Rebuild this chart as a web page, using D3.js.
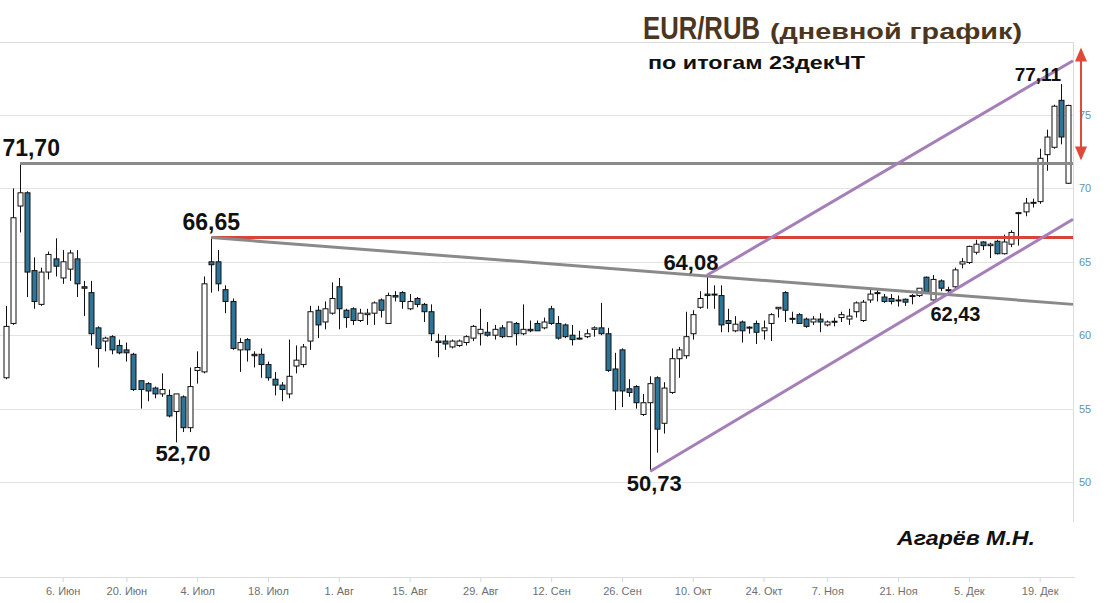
<!DOCTYPE html>
<html>
<head>
<meta charset="utf-8">
<script src="https://cdn.jsdelivr.net/npm/d3@7"></script>
<style>
  body { margin: 0; background: #fff; }
  svg { display: block; }
</style>
</head>
<body>
<svg></svg>
<script>
// EUR/RUB daily candles, 25 May - 23 Dec 2022 (MOEX days, 13 Jun and 4 Nov closed)
const firstDay = new Date(2022, 4, 25);
const lastDay = new Date(2022, 11, 23);
const holidays = ["2022-06-13", "2022-11-04"];

const opens = [
  57.1, 60.8, 68.8, 69.7, 64.4, 62.1, 64.3, 65.2, 63.9, 64.5,
  65.2, 63.3, 62.9, 60.5, 59.6, 59.9, 59.3, 59.0, 58.7, 56.9,
  56.7, 56.4, 56.0, 55.9, 54.8, 55.8, 53.7, 57.6, 57.5, 65.0,
  65.0, 63.1, 62.3, 59.0, 59.7, 58.7, 58.7, 58.0, 57.0, 56.6,
  56.0, 57.9, 58.0, 59.6, 61.7, 60.9, 61.5, 63.3, 61.7, 61.8,
  61.0, 61.4, 61.5, 62.4, 60.8, 62.7, 62.9, 61.8, 62.5, 62.1,
  61.6, 59.6, 59.6, 59.2, 59.3, 59.5, 59.8, 60.1, 60.2, 60.0,
  60.5, 59.9, 60.8, 60.1, 60.4, 60.8, 60.5, 61.8, 60.8, 60.7,
  60.0, 59.8, 59.9, 60.4, 60.5, 60.1, 57.7, 59.0, 56.35, 56.5,
  54.6, 55.4, 57.1, 54.0, 56.1, 58.4, 58.6, 60.1, 61.9, 62.8,
  62.8, 62.7, 61.0, 60.3, 60.9, 60.55, 60.8, 60.3, 60.8, 61.8,
  62.9, 61.15, 61.4, 61.1, 60.9, 61.1, 60.7, 60.95, 61.2, 61.1,
  61.6, 61.0, 62.4, 62.85, 62.6, 62.5, 62.4, 62.45, 62.65, 62.7,
  63.95, 62.4, 63.7, 63.05, 63.3, 64.85, 64.95, 65.65, 66.35, 66.1,
  66.4, 65.55, 66.2, 68.3, 68.4, 69.0, 69.1, 72.3, 72.8, 76.0,
  70.35
];
const highs = [
  62.0, 70.0, 71.7, 69.8, 65.3, 64.6, 65.7, 66.6, 65.8, 65.8,
  65.8, 63.7, 63.7, 60.6, 59.9, 60.0, 59.7, 59.5, 58.8, 56.9,
  56.8, 56.5, 57.4, 56.3, 56.0, 55.9, 57.8, 58.9, 64.0, 66.65,
  65.8, 63.4, 62.5, 59.8, 59.8, 58.9, 59.1, 58.2, 57.5, 56.8,
  59.7, 59.3, 59.4, 62.0, 62.0, 62.3, 63.6, 63.9, 61.8, 61.9,
  61.8, 61.8, 62.3, 62.5, 62.9, 63.0, 63.0, 62.8, 62.6, 62.2,
  62.1, 60.1, 60.0, 59.7, 59.7, 60.0, 60.7, 61.8, 60.9, 60.7,
  60.7, 60.9, 60.9, 62.1, 61.0, 61.0, 61.2, 62.0, 61.3, 60.8,
  60.7, 60.3, 60.4, 60.6, 62.2, 60.5, 58.8, 59.1, 57.0, 56.6,
  56.0, 57.2, 57.2, 56.8, 59.1, 59.2, 61.6, 61.7, 63.0, 64.08,
  63.4, 63.4, 61.8, 61.3, 61.0, 60.6, 61.0, 61.0, 61.5, 61.9,
  63.0, 61.6, 61.5, 61.2, 61.3, 61.5, 61.0, 61.2, 61.6, 61.8,
  62.3, 62.4, 63.1, 63.1, 62.8, 62.8, 62.7, 62.5, 62.8, 63.2,
  64.0, 64.1, 63.8, 63.3, 64.6, 65.25, 66.1, 66.5, 66.4, 66.3,
  66.5, 66.85, 67.15, 68.4, 69.35, 69.3, 72.7, 74.0, 75.7, 77.11,
  75.7
];
const lows = [
  57.0, 60.7, 67.0, 62.6, 61.8, 62.0, 63.8, 64.0, 63.5, 63.7,
  62.6, 61.3, 59.3, 57.8, 58.9, 58.7, 58.7, 58.2, 56.2, 55.0,
  55.5, 55.7, 55.8, 54.4, 52.7, 53.4, 53.4, 56.7, 57.4, 62.9,
  63.0, 61.5, 59.0, 57.5, 58.2, 57.8, 57.1, 56.9, 55.9, 55.5,
  55.7, 57.4, 57.8, 59.0, 59.8, 60.4, 61.4, 60.4, 60.5, 60.7,
  60.9, 60.7, 60.7, 61.2, 60.8, 62.3, 61.8, 61.7, 61.9, 60.9,
  59.6, 58.5, 59.0, 59.1, 59.2, 59.3, 59.6, 59.3, 59.9, 59.7,
  59.8, 59.9, 59.3, 60.0, 60.2, 60.3, 60.4, 60.7, 59.7, 59.8,
  59.3, 59.7, 59.8, 59.9, 60.0, 57.5, 54.9, 55.1, 55.8, 55.0,
  54.5, 50.73, 52.0, 53.3, 56.0, 57.1, 58.4, 59.7, 61.8, 61.8,
  61.8, 60.2, 60.2, 60.2, 59.5, 60.1, 59.4, 59.7, 59.6, 61.2,
  60.9, 60.8, 60.8, 60.5, 60.7, 60.2, 60.6, 60.6, 60.9, 60.7,
  61.2, 60.9, 62.2, 62.3, 62.2, 62.1, 61.95, 62.0, 62.1, 62.6,
  62.9, 62.35, 63.0, 62.8, 63.2, 64.55, 64.85, 65.5, 65.8, 65.25,
  65.5, 65.5, 66.0, 66.1, 68.1, 68.7, 68.95, 71.2, 72.7, 73.0,
  70.3
];
const closes = [
  60.6, 68.0, 69.7, 64.3, 62.3, 64.3, 65.5, 64.7, 65.0, 65.6,
  63.5, 63.2, 60.1, 59.1, 59.8, 59.0, 58.8, 58.8, 56.3, 56.3,
  56.2, 56.0, 56.3, 54.5, 56.0, 53.7, 56.5, 57.8, 63.5, 64.8,
  63.5, 62.3, 59.1, 59.5, 59.0, 58.6, 58.0, 57.1, 56.6, 56.3,
  57.2, 58.3, 59.2, 61.6, 60.7, 61.8, 62.5, 61.8, 61.2, 61.0,
  61.5, 61.5, 62.2, 61.7, 62.7, 62.6, 62.3, 62.3, 62.1, 61.6,
  60.1, 59.5, 59.4, 59.6, 59.6, 59.9, 60.6, 60.4, 60.0, 60.4,
  59.9, 60.9, 60.1, 60.4, 60.3, 60.3, 60.9, 60.8, 59.8, 59.9,
  59.7, 59.8, 60.1, 60.5, 60.1, 57.6, 56.2, 56.2, 56.1, 55.4,
  55.4, 56.7, 53.6, 56.4, 58.4, 59.0, 59.9, 61.4, 62.5, 62.7,
  62.75, 60.7, 60.8, 60.75, 60.3, 60.5, 60.2, 60.5, 61.4, 61.9,
  61.7, 61.1, 60.8, 60.6, 61.1, 60.9, 60.9, 60.9, 61.4, 61.3,
  62.2, 62.25, 62.8, 62.9, 62.3, 62.3, 62.35, 62.25, 62.7, 63.2,
  62.95, 63.8, 63.2, 63.1, 64.45, 65.0, 66.05, 66.2, 66.1, 66.2,
  65.55, 66.35, 67.0, 68.35, 69.0, 69.05, 72.05, 73.5, 75.6, 73.5,
  75.65
];

const priceTicks = [50, 55, 60, 65, 70, 75];
const tickDays = ["2022-06-06", "2022-06-20", "2022-07-04", "2022-07-18", "2022-08-01",
  "2022-08-15", "2022-08-29", "2022-09-12", "2022-09-26", "2022-10-10",
  "2022-10-24", "2022-11-07", "2022-11-21", "2022-12-05", "2022-12-19"];
const tickLabels = ["6. Июн", "20. Июн", "4. Июл", "18. Июл", "1. Авг", "15. Авг",
  "29. Авг", "12. Сен", "26. Сен", "10. Окт", "24. Окт", "7. Ноя", "21. Ноя",
  "5. Дек", "19. Дек"];

// marked extremes: candle index and price
const markText = ["71,70", "66,65", "52,70", "50,73", "64,08", "62,43", "77,11"];
const markIndex = [2, 29, 24, 91, 99, 131, 149];
const markValue = [71.70, 66.65, 52.70, 50.73, 64.08, 62.43, 77.11];

// drawn lines: start candle/price, price at the right edge
const lineStartIndex = [2, 29, 29, 99, 91];
const lineStartValue = [71.70, 66.65, 66.65, 64.08, 50.73];
const lineEndValue = [71.70, 66.65, 62.1, 78.7, 67.9];
const lineKind = ["level", "red", "level", "channel", "channel"];

const arrowRange = [79.6, 71.9];

const width = 1118;
const height = 603;
const plot = { left: 0, right: 1073, top: 42, bottom: 522 };

const fmt = d3.timeFormat("%Y-%m-%d");
const days = d3.timeDay
  .range(firstDay, d3.timeDay.offset(lastDay, 1))
  .filter((d) => d.getDay() !== 0 && d.getDay() !== 6 && !holidays.includes(fmt(d)))
  .map(fmt);

const candles = days.map((d, i) => ({
  day: d, open: opens[i], high: highs[i], low: lows[i], close: closes[i],
}));

const svg = d3.select("svg").attr("width", width).attr("height", height);

const xScale = d3.scalePoint().domain(days).range([6, 1068]);
const yScale = d3.scaleLinear().domain([50, 75]).range([482, 115]);
const step = xScale.step();
const xAt = (i) => xScale(days[0]) + i * step;

// frame and grid
svg.append("g")
  .selectAll("line")
  .data(priceTicks)
  .enter()
  .append("line")
  .attr("x1", plot.left)
  .attr("x2", plot.right)
  .attr("y1", (d) => Math.round(yScale(d)) + 0.5)
  .attr("y2", (d) => Math.round(yScale(d)) + 0.5)
  .attr("stroke", "#e3e3e3");

svg.append("line")
  .attr("x1", plot.left).attr("x2", plot.right)
  .attr("y1", plot.top + 0.5).attr("y2", plot.top + 0.5)
  .attr("stroke", "#dcdcdc");
svg.append("line")
  .attr("x1", plot.right + 0.5).attr("x2", plot.right + 0.5)
  .attr("y1", plot.top).attr("y2", plot.bottom)
  .attr("stroke", "#dcdcdc");

// right price axis
const yAxis = d3.axisRight(yScale).tickValues(priceTicks).tickSize(0).tickPadding(0);
const yG = svg.append("g")
  .attr("id", "y-axis")
  .attr("transform", `translate(${plot.right + 6}, 0)`)
  .call(yAxis);
yG.select(".domain").remove();
yG.selectAll("text")
  .attr("fill", "#5f93a6")
  .style("font", "11px 'Liberation Sans', Arial, sans-serif");

// bottom date axis
svg.append("line")
  .attr("x1", 0).attr("x2", 1075)
  .attr("y1", 577.5).attr("y2", 577.5)
  .attr("stroke", "#dcdcdc");
const xAxis = d3.axisBottom(xScale)
  .tickValues(tickDays)
  .tickSize(5)
  .tickPadding(5)
  .tickFormat((d) => tickLabels[tickDays.indexOf(d)]);
const xG = svg.append("g")
  .attr("id", "x-axis")
  .attr("transform", "translate(0, 577)")
  .call(xAxis);
xG.select(".domain").remove();
xG.selectAll(".tick line").attr("stroke", "#cfd8de");
xG.selectAll("text")
  .attr("fill", "#6f6f6f")
  .style("font", "11px 'Liberation Sans Narrow', 'Liberation Sans', Arial, sans-serif");

// candles
const bodyW = 5;
const cg = svg.append("g").attr("class", "candles");
const candle = cg.selectAll("g").data(candles).enter().append("g");
candle.append("line")
  .attr("x1", (d) => Math.round(xScale(d.day)) + 0.5)
  .attr("x2", (d) => Math.round(xScale(d.day)) + 0.5)
  .attr("y1", (d) => yScale(d.high))
  .attr("y2", (d) => yScale(d.low))
  .attr("stroke", "#111")
  .attr("stroke-width", 1);
candle.append("rect")
  .attr("x", (d) => Math.round(xScale(d.day)) - bodyW / 2 + 0.5)
  .attr("width", bodyW)
  .attr("y", (d) => yScale(Math.max(d.open, d.close)))
  .attr("height", (d) => Math.max(1, Math.abs(yScale(d.open) - yScale(d.close))))
  .attr("fill", (d) => (d.close < d.open ? "#2d7598" : "#fff"))
  .attr("stroke", "#111")
  .attr("stroke-width", 1);

// drawn lines
const lineColor = { level: "#8a8a8a", red: "#d8443c", channel: "#a57fb8" };
const lines = lineStartIndex.map((s, i) => ({
  x1: xAt(s), y1: yScale(lineStartValue[i]),
  x2: plot.right, y2: yScale(lineEndValue[i]), kind: lineKind[i],
}));
svg.append("g")
  .selectAll("line")
  .data(lines)
  .enter()
  .append("line")
  .attr("x1", (d) => d.x1).attr("y1", (d) => d.y1)
  .attr("x2", (d) => d.x2).attr("y2", (d) => d.y2)
  .attr("stroke", (d) => lineColor[d.kind])
  .attr("stroke-width", 3);

// red double arrow
const ax = plot.right + 8;
const aTop = yScale(arrowRange[0]);
const aBot = yScale(arrowRange[1]);
svg.append("line")
  .attr("x1", ax).attr("x2", ax)
  .attr("y1", aTop + 10).attr("y2", aBot - 10)
  .attr("stroke", "#e0483a").attr("stroke-width", 2);
svg.append("path")
  .attr("d", `M${ax},${aTop} L${ax - 6},${aTop + 14} L${ax + 6},${aTop + 14} Z`)
  .attr("fill", "#e0483a");
svg.append("path")
  .attr("d", `M${ax},${aBot} L${ax - 6},${aBot - 14} L${ax + 6},${aBot - 14} Z`)
  .attr("fill", "#e0483a");

// extreme labels
const markShift = [[11, -7], [0, -8], [7, 19], [4, 20], [-16, -5], [22, 21], [-23, -3]];
const markSize = [23, 23, 22, 22, 22, 20, 19];
svg.append("g")
  .selectAll("text")
  .data(markText)
  .enter()
  .append("text")
  .attr("x", (d, i) => xAt(markIndex[i]) + markShift[i][0])
  .attr("y", (d, i) => yScale(markValue[i]) + markShift[i][1])
  .attr("text-anchor", "middle")
  .attr("fill", "#111")
  .style("font-family", "'Liberation Sans', Arial, sans-serif")
  .style("font-weight", "bold")
  .style("font-size", (d, i) => markSize[i] + "px")
  .text((d) => d);

// titles
const titleFont = "'Liberation Sans', Arial, sans-serif";
svg.append("text")
  .attr("x", 643).attr("y", 39)
  .attr("fill", "#4b3621")
  .attr("textLength", 117).attr("lengthAdjust", "spacingAndGlyphs")
  .style("font", `bold 32px ${titleFont}`)
  .text("EUR/RUB");
svg.append("text")
  .attr("x", 770).attr("y", 39)
  .attr("fill", "#4b3621")
  .attr("textLength", 252).attr("lengthAdjust", "spacingAndGlyphs")
  .style("font", `bold 22px ${titleFont}`)
  .text("(дневной график)");

svg.append("text")
  .attr("x", 648).attr("y", 69)
  .attr("fill", "#111")
  .attr("textLength", 217).attr("lengthAdjust", "spacingAndGlyphs")
  .style("font", `bold 19px ${titleFont}`)
  .text("по итогам 23декЧТ");

svg.append("text")
  .attr("x", 897).attr("y", 545)
  .attr("fill", "#111")
  .attr("textLength", 138).attr("lengthAdjust", "spacingAndGlyphs")
  .style("font", `italic bold 20px ${titleFont}`)
  .text("Агарёв М.Н.");
</script>
</body>
</html>
